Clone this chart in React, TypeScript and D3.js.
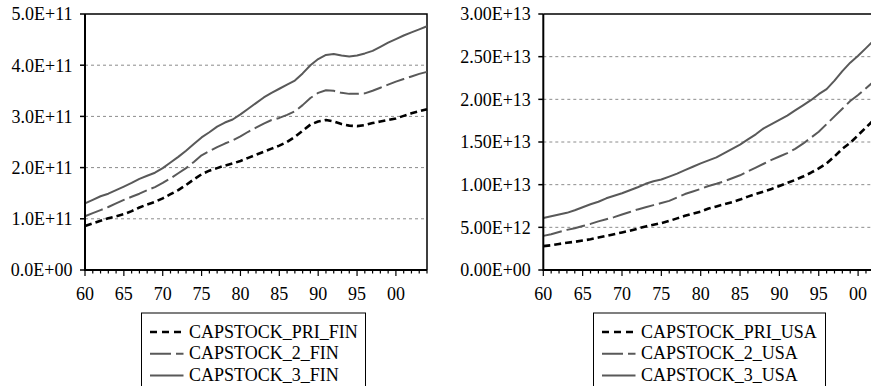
import React, { useEffect, useRef } from 'react';
import * as d3 from 'd3';

// years on the x axis
const years = d3.range(1960, 2005);
const xTickYears = [1960, 1965, 1970, 1975, 1980, 1985, 1990, 1995, 2000];
const xTickLabels = ['60', '65', '70', '75', '80', '85', '90', '95', '00'];

// Finland, in units of 1E+11
const FIN_UNIT = 1e11;
const finPri = [
  0.86, 0.91, 0.96, 1.01, 1.05, 1.09, 1.15, 1.22, 1.28, 1.33,
  1.40, 1.48, 1.56, 1.66, 1.77, 1.87, 1.94, 1.99, 2.04, 2.08,
  2.13, 2.19, 2.25, 2.31, 2.37, 2.43, 2.50, 2.60, 2.72, 2.84,
  2.90, 2.93, 2.90, 2.85, 2.82, 2.81, 2.83, 2.87, 2.90, 2.93,
  2.96, 3.01, 3.06, 3.10, 3.14,
];
const fin2 = [
  1.05, 1.11, 1.17, 1.23, 1.30, 1.37, 1.43, 1.49, 1.56, 1.62,
  1.70, 1.79, 1.89, 1.99, 2.11, 2.24, 2.32, 2.40, 2.47, 2.53,
  2.61, 2.70, 2.78, 2.86, 2.93, 2.97, 3.03, 3.10, 3.22, 3.36,
  3.46, 3.51, 3.50, 3.46, 3.44, 3.44, 3.45, 3.50, 3.56, 3.62,
  3.68, 3.73, 3.78, 3.83, 3.87,
];
const fin3 = [
  1.30, 1.37, 1.44, 1.49, 1.56, 1.63, 1.70, 1.78, 1.84, 1.90,
  1.99, 2.10, 2.21, 2.33, 2.46, 2.59, 2.69, 2.80, 2.88, 2.94,
  3.04, 3.15, 3.26, 3.37, 3.46, 3.54, 3.62, 3.70, 3.84, 4.00,
  4.12, 4.20, 4.22, 4.19, 4.17, 4.19, 4.23, 4.28, 4.36, 4.44,
  4.51, 4.58, 4.64, 4.70, 4.76,
];
const finTicks = [0, 1e11, 2e11, 3e11, 4e11, 5e11];
const finTickLabels = ['0.0E+00', '1.0E+11', '2.0E+11', '3.0E+11', '4.0E+11', '5.0E+11'];
const finLegend = ['CAPSTOCK_PRI_FIN', 'CAPSTOCK_2_FIN', 'CAPSTOCK_3_FIN'];

// USA, in units of 1E+12
const USA_UNIT = 1e12;
const usaPri = [
  2.80, 2.90, 3.05, 3.20, 3.30, 3.45, 3.60, 3.80, 4.00, 4.20,
  4.40, 4.60, 4.85, 5.10, 5.30, 5.50, 5.75, 6.05, 6.35, 6.60,
  6.85, 7.20, 7.45, 7.70, 7.95, 8.25, 8.60, 8.90, 9.20, 9.50,
  9.85, 10.2, 10.55, 10.95, 11.4, 11.9, 12.5, 13.3, 14.2, 14.9,
  15.8, 16.7, 17.6, 18.5, 19.4,
];
const usa2 = [
  4.00, 4.20, 4.45, 4.70, 4.90, 5.15, 5.40, 5.70, 5.95, 6.20,
  6.50, 6.80, 7.10, 7.35, 7.60, 7.85, 8.10, 8.50, 8.90, 9.20,
  9.50, 9.85, 10.1, 10.4, 10.75, 11.1, 11.55, 12.0, 12.45, 12.9,
  13.3, 13.7, 14.2, 14.8, 15.5, 16.2, 17.1, 18.0, 18.9, 19.8,
  20.5, 21.3, 22.1, 22.9, 23.7,
];
const usa3 = [
  6.10, 6.30, 6.50, 6.70, 7.00, 7.35, 7.70, 8.00, 8.40, 8.70,
  9.00, 9.35, 9.70, 10.1, 10.4, 10.6, 10.95, 11.3, 11.7, 12.1,
  12.5, 12.85, 13.2, 13.7, 14.2, 14.7, 15.3, 15.9, 16.6, 17.1,
  17.6, 18.1, 18.7, 19.3, 19.9, 20.6, 21.2, 22.2, 23.3, 24.3,
  25.1, 26.0, 26.9, 27.8, 28.7,
];
const usaTicks = [0, 5e12, 1e13, 1.5e13, 2e13, 2.5e13, 3e13];
const usaTickLabels = ['0.00E+00', '5.00E+12', '1.00E+13', '1.50E+13', '2.00E+13', '2.50E+13', '3.00E+13'];
const usaLegend = ['CAPSTOCK_PRI_USA', 'CAPSTOCK_2_USA', 'CAPSTOCK_3_USA'];

const FONT = "'Liberation Serif', 'Times New Roman', Times, 'DejaVu Serif', serif";

// pri, 2, 3
const lineStyles = [
  { color: '#000000', width: 2.6, dash: '7,4' },
  { color: '#595959', width: 2, dash: '19,5' },
  { color: '#595959', width: 2, dash: null as string | null },
];

interface Panel {
  left: number;
  right: number;
  top: number;
  bottom: number;
  unit: number;
  series: number[][];
  ticks: number[];
  tickLabels: string[];
  legend: string[];
  legendX: number;
  legendW: number;
}

const panels: Panel[] = [
  {
    left: 85, right: 427, top: 14, bottom: 270,
    unit: FIN_UNIT, series: [finPri, fin2, fin3],
    ticks: finTicks, tickLabels: finTickLabels, legend: finLegend,
    legendX: 141.5, legendW: 224,
  },
  {
    left: 543.3, right: 543.3 + 44 * 7.87, top: 14, bottom: 270,
    unit: USA_UNIT, series: [usaPri, usa2, usa3],
    ticks: usaTicks, tickLabels: usaTickLabels, legend: usaLegend,
    legendX: 593.5, legendW: 232,
  },
];

export default function App() {
  const svgRef = useRef<SVGSVGElement>(null);

  useEffect(() => {
    if (!svgRef.current) return;
    const svg = d3.select(svgRef.current);
    svg.selectAll('*').remove();

    panels.forEach((p) => {
      const x = d3.scaleLinear().domain([1960, 2004]).range([p.left, p.right]);
      const y = d3.scaleLinear().domain([0, p.ticks[p.ticks.length - 1]]).range([p.bottom, p.top]);
      const g = svg.append('g');

      // gridlines
      p.ticks.slice(1, -1).forEach((t) => {
        g.append('line')
          .attr('x1', p.left).attr('x2', p.right)
          .attr('y1', y(t)).attr('y2', y(t))
          .attr('stroke', '#8c8c8c')
          .attr('stroke-width', 1)
          .attr('stroke-dasharray', '3,3');
      });

      // plot box top and right
      g.append('path')
        .attr('d', `M${p.left},${p.top}H${p.right}V${p.bottom}`)
        .attr('fill', 'none')
        .attr('stroke', '#000')
        .attr('stroke-width', 1.5);

      // series
      const line = d3.line<number>()
        .x((_, i) => x(years[i]))
        .y((d) => y(d * p.unit));
      [2, 1, 0].forEach((k) => {
        const s = lineStyles[k];
        g.append('path')
          .attr('d', line(p.series[k]))
          .attr('fill', 'none')
          .attr('stroke', s.color)
          .attr('stroke-width', s.width)
          .attr('stroke-dasharray', s.dash)
          .attr('stroke-linejoin', 'round');
      });

      // axes
      g.append('path')
        .attr('d', `M${p.left},${p.top}V${p.bottom}H${p.right}`)
        .attr('fill', 'none')
        .attr('stroke', '#000')
        .attr('stroke-width', 2);

      years.forEach((yr) => {
        const major = (yr - 1960) % 5 === 0;
        g.append('line')
          .attr('x1', x(yr)).attr('x2', x(yr))
          .attr('y1', p.bottom).attr('y2', p.bottom + (major ? 6 : 3.5))
          .attr('stroke', '#000')
          .attr('stroke-width', 1.2);
      });
      xTickYears.forEach((yr, i) => {
        g.append('text')
          .attr('x', x(yr))
          .attr('y', 300)
          .attr('text-anchor', 'middle')
          .style('font-family', FONT)
          .style('font-size', '18px')
          .text(xTickLabels[i]);
      });

      p.ticks.forEach((t, i) => {
        g.append('line')
          .attr('x1', p.left - 5).attr('x2', p.left)
          .attr('y1', y(t)).attr('y2', y(t))
          .attr('stroke', '#000')
          .attr('stroke-width', 1.5);
        g.append('text')
          .attr('x', p.left - 12.5)
          .attr('y', y(t))
          .attr('dy', '0.35em')
          .attr('text-anchor', 'end')
          .style('font-family', FONT)
          .style('font-size', '18px')
          .text(p.tickLabels[i]);
      });

      // legend
      const lg = svg.append('g');
      lg.append('rect')
        .attr('x', p.legendX)
        .attr('y', 313)
        .attr('width', p.legendW)
        .attr('height', 90)
        .attr('fill', '#fff')
        .attr('stroke', '#000')
        .attr('stroke-width', 1);
      p.legend.forEach((name, i) => {
        const s = lineStyles[i];
        const cy = 332 + i * 21.8;
        lg.append('line')
          .attr('x1', p.legendX + 8.5)
          .attr('x2', p.legendX + 42)
          .attr('y1', cy).attr('y2', cy)
          .attr('stroke', s.color)
          .attr('stroke-width', s.width)
          .attr('stroke-dasharray', i === 0 ? '7,5' : i === 1 ? '21,5' : null);
        lg.append('text')
          .attr('x', p.legendX + 47.5)
          .attr('y', cy + 5.5)
          .style('font-family', FONT)
          .style('font-size', '18px')
          .text(name);
      });
    });
  }, []);

  return (
    <div style={{ position: 'absolute', left: 0, top: 0, width: 871, height: 386, overflow: 'hidden', background: '#fff' }}>
      <svg ref={svgRef} width={871} height={386} />
    </div>
  );
}
